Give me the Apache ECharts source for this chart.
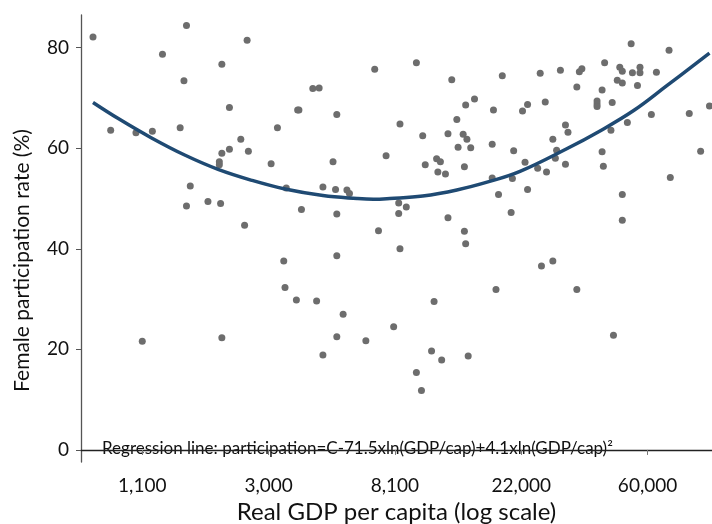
<!DOCTYPE html>
<html>
<head>
  <meta charset="utf-8">
  <title>Female participation vs GDP</title>
  <script src="https://cdn.jsdelivr.net/npm/echarts@6/dist/echarts.min.js"></script>
</head>
<body style="margin:0">
  <div id="main" style="width:712px;height:524px;"></div>
  <script type="text/javascript">
    // ln(real GDP per capita) and female participation rate (%) per country
    var lnGdp = [
      6.61, 7.35, 7.16, 7.63, 7.83, 7.33, 7.69, 6.75, 6.95, 7.08,
      7.30, 7.78, 7.63, 7.69, 7.61, 7.61, 7.84, 8.07, 8.02, 8.23,
      8.24, 8.35, 8.40, 8.54, 8.51, 8.84, 9.17, 9.45, 9.56, 9.49,
      9.04, 9.22, 9.42, 9.54, 9.57, 9.50, 9.60, 8.93, 9.24, 9.33,
      9.36, 9.34, 9.40, 9.55, 10.87, 11.17, 9.85, 10.15, 10.31, 10.46,
      10.48, 10.66, 10.78, 10.80, 10.88, 10.94, 10.94, 11.07, 10.76, 10.80,
      10.92, 10.44, 10.64, 9.63, 9.78, 10.01, 10.05, 10.19, 10.60, 10.60,
      10.60, 10.72, 11.49, 11.33, 11.03, 10.84, 10.35, 10.37, 10.71, 9.77,
      10.25, 9.94, 10.28, 10.27, 10.64, 11.42, 10.03, 10.13, 10.20, 10.35,
      10.65, 9.77, 9.93, 11.18, 7.38, 7.35, 7.52, 7.62, 7.00, 7.63,
      8.14, 8.43, 8.53, 8.62, 8.64, 8.26, 8.54, 7.81, 9.03, 9.09,
      9.03, 9.42, 8.87, 9.55, 9.56, 9.04, 8.12, 8.54, 8.13, 8.22,
      8.38, 8.59, 9.31, 8.99, 8.54, 8.77, 9.29, 9.82, 10.05, 9.92,
      10.80, 10.80, 10.16, 10.25, 9.80, 10.44, 10.73, 8.43, 9.37, 9.17,
      9.21, 9.58
    ];
    var participation = [
      82.1, 84.4, 78.7, 76.7, 81.5, 73.4, 68.1, 63.6, 63.1, 63.4,
      64.1, 61.8, 59.0, 59.8, 57.3, 56.7, 59.4, 64.1, 56.9, 67.6,
      67.6, 71.9, 72.0, 66.7, 57.3, 75.7, 77.0, 73.6, 68.6, 65.7,
      64.8, 62.5, 62.9, 62.8, 61.8, 60.2, 60.1, 58.5, 56.7, 57.9,
      57.3, 55.3, 54.9, 56.3, 80.8, 79.5, 74.4, 74.9, 75.5, 75.2,
      75.8, 77.0, 76.1, 75.3, 75.0, 76.1, 75.0, 75.1, 73.5, 73.0,
      72.5, 72.2, 71.6, 69.8, 67.6, 67.4, 68.7, 69.2, 69.4, 68.8,
      68.3, 69.1, 68.4, 66.9, 66.7, 65.1, 64.6, 63.2, 63.6, 60.8,
      61.8, 59.5, 59.6, 58.0, 59.3, 59.4, 57.2, 56.0, 55.3, 56.8,
      56.4, 54.1, 54.0, 54.2, 52.5, 48.5, 49.4, 49.0, 21.6, 22.3,
      52.1, 52.3, 51.8, 51.7, 51.0, 47.8, 46.9, 44.7, 49.1, 48.3,
      47.0, 46.2, 43.6, 43.5, 41.0, 40.0, 37.6, 38.6, 32.3, 29.8,
      29.6, 27.0, 29.5, 24.5, 22.5, 21.7, 19.7, 50.8, 51.8, 47.2,
      50.8, 45.7, 36.6, 37.6, 31.9, 31.9, 22.8, 18.9, 17.9, 15.4,
      11.8, 18.7
    ];

    // fitted regression curve
    var curveLn = [6.61, 6.81, 7.07, 7.34, 7.60, 7.87, 8.13, 8.43, 8.70, 8.83, 8.96,
                   9.22, 9.49, 9.75, 9.99, 10.36, 10.62, 10.89, 11.15, 11.49];
    var curveRate = [69.1, 65.9, 62.1, 58.6, 55.8, 53.6, 51.9, 50.6, 50.0, 49.85, 50.0,
                     50.5, 51.7, 53.4, 55.4, 59.9, 63.4, 67.5, 72.4, 78.9];

    // x ticks sit at ln values, labelled with the GDP level
    var tickLn = [7, 8, 9, 10, 11];
    var tickLabels = ['1,100', '3,000', '8,100', '22,000', '60,000'];
    var yTicks = [0, 20, 40, 60, 80];

    var points = lnGdp.map(function (v, i) { return [v, participation[i]]; });
    var curve = curveLn.map(function (v, i) { return [v, curveRate[i]]; });

    var font = 'Lato';
    var myChart = echarts.init(document.getElementById('main'));

    var option = {
      animation: false,
      textStyle: { fontFamily: font },
      grid: { left: 81, right: 0, top: 15, bottom: 62, outerBoundsMode: 'none', containLabel: false },
      xAxis: {
        type: 'value',
        min: 6.515,
        max: 11.51,
        name: 'Real GDP per capita (log scale)',
        nameLocation: 'middle',
        nameGap: 38,
        nameTextStyle: { fontSize: 24, color: '#111', fontFamily: font },
        splitLine: { show: false },
        axisLine: { lineStyle: { color: '#222', width: 1.3 } },
        axisTick: { customValues: tickLn, length: 5, lineStyle: { color: '#777' } },
        axisLabel: {
          customValues: tickLn,
          margin: 14,
          fontSize: 19,
          color: '#111',
          formatter: function (v) {
            var i = tickLn.indexOf(Math.round(v));
            return i >= 0 ? tickLabels[i] : '';
          }
        }
      },
      yAxis: {
        type: 'value',
        min: -2.4,
        max: 86.5,
        name: 'Female participation rate (%)',
        nameLocation: 'middle',
        nameGap: 48,
        nameTextStyle: { fontSize: 21, color: '#111', fontFamily: font, padding: [0, 44, 0, 0] },
        splitLine: { show: false },
        axisLine: { show: true, lineStyle: { color: '#555', width: 1.3 } },
        axisTick: { show: true, customValues: yTicks, length: 5, lineStyle: { color: '#555' } },
        axisLabel: { customValues: yTicks, margin: 12, fontSize: 19, color: '#111' }
      },
      graphic: [{
        type: 'text',
        left: 102,
        top: 440,
        style: {
          text: 'Regression line: participation=C-71.5xln(GDP/cap)+4.1xln(GDP/cap)\u00b2',
          font: '17px Lato',
          fill: '#111'
        }
      }],
      series: [
        {
          type: 'scatter',
          data: points,
          symbolSize: 7,
          itemStyle: { color: '#6d6d6d', opacity: 1 },
          z: 2
        },
        {
          type: 'line',
          data: curve,
          smooth: 0.4,
          showSymbol: false,
          lineStyle: { color: '#1f4a73', width: 3.5 },
          z: 3
        }
      ]
    };

    myChart.setOption(option);
  </script>
</body>
</html>
